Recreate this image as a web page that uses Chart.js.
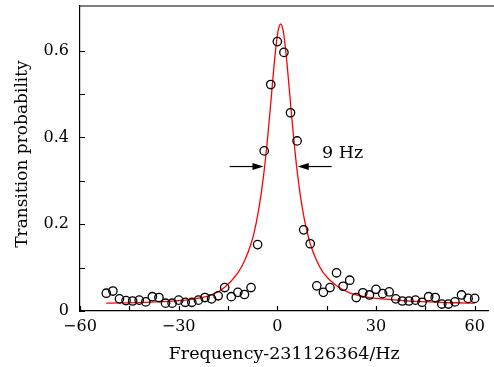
<!DOCTYPE html>
<html>
<head>
<meta charset="utf-8">
<script src="https://cdn.jsdelivr.net/npm/chart.js@4/dist/chart.umd.min.js"></script>
<style>
  html, body { margin: 0; padding: 0; background: #fff; overflow: hidden; }
  #wrap { width: 100vw; height: 367px; position: relative; }
</style>
</head>
<body>
<div id="wrap"><canvas id="chart"></canvas></div>
<script>
// measured points (Hz offset, transition probability)
const freq = [-52, -50, -48, -46, -44, -42, -40, -38, -36, -34, -32, -30, -28, -26, -24, -22, -20, -18, -16, -14, -12, -10, -8,
  -6, -4, -2, 0, 2, 4, 6, 8, 10,
  12, 14, 16, 18, 20, 22, 24, 26, 28, 30, 32, 34, 36, 38, 40, 42, 44, 46, 48, 50, 52, 54, 56, 58, 60];
const prob = [0.041, 0.046, 0.028, 0.024, 0.023, 0.025, 0.021, 0.033, 0.031, 0.018, 0.018, 0.025, 0.020, 0.020, 0.025, 0.031, 0.028, 0.035, 0.054, 0.033, 0.043, 0.038, 0.054,
  0.153, 0.369, 0.522, 0.621, 0.596, 0.457, 0.392, 0.187, 0.155,
  0.058, 0.043, 0.054, 0.088, 0.057, 0.071, 0.031, 0.042, 0.037, 0.050, 0.040, 0.044, 0.028, 0.023, 0.023, 0.025, 0.020, 0.033, 0.031, 0.016, 0.016, 0.021, 0.037, 0.029, 0.029];

// fitted curve
const fitFreq = [-52, -40, -30, -26, -20, -16, -12, -10, -8, -7, -6, -5, -4, -3, -2, -1, 0, 0.5, 1, 1.5, 2, 3, 4, 5, 6, 7, 8, 9, 10, 12, 14, 18, 22, 28, 32, 42, 54, 60];
const fitProb = [0.018, 0.020, 0.024, 0.027, 0.037, 0.055, 0.088, 0.115, 0.155, 0.183, 0.220, 0.266, 0.324, 0.396, 0.479, 0.566, 0.635, 0.655, 0.662, 0.655, 0.635, 0.566, 0.479, 0.396, 0.324, 0.266, 0.220, 0.184, 0.155, 0.115, 0.088, 0.058, 0.042, 0.031, 0.028, 0.022, 0.019, 0.018];

const xTicks = [-60, -30, 0, 30, 60];
const xMinor = [-45, -15, 15, 45];
const yTicks = [0, 0.2, 0.4, 0.6];
const yMinor = [0.1, 0.3, 0.5];

const serif = '"DejaVu Serif", "Liberation Serif", serif';

// inward ticks, top frame line, FWHM arrows and the y title
const decor = {
    id: 'decor',
    afterDatasetsDraw(chart) {
        const { ctx, chartArea: a, scales: { x, y } } = chart;
        ctx.save();
        ctx.strokeStyle = '#000';
        ctx.lineWidth = 1.2;
        ctx.beginPath();
        ctx.moveTo(a.left, a.top);
        ctx.lineTo(chart.width, a.top);
        xTicks.concat(xMinor).forEach(v => {
            const px = Math.round(x.getPixelForValue(v)) + 0.5;
            ctx.moveTo(px, a.bottom);
            ctx.lineTo(px, a.bottom - 5);
        });
        yTicks.concat(yMinor).forEach(v => {
            const py = Math.round(y.getPixelForValue(v)) + 0.5;
            ctx.moveTo(a.left, py);
            ctx.lineTo(a.left + 5, py);
        });
        ctx.stroke();

        // 9 Hz arrows
        const ay = y.getPixelForValue(0.333);
        const arrow = (from, to) => {
            const x0 = x.getPixelForValue(from), x1 = x.getPixelForValue(to);
            const dir = Math.sign(x1 - x0);
            ctx.beginPath();
            ctx.moveTo(x0, ay);
            ctx.lineTo(x1 - dir * 8, ay);
            ctx.stroke();
            ctx.beginPath();
            ctx.moveTo(x1, ay);
            ctx.lineTo(x1 - dir * 11, ay - 3.5);
            ctx.lineTo(x1 - dir * 11, ay + 3.5);
            ctx.closePath();
            ctx.fill();
        };
        ctx.fillStyle = '#000';
        arrow(-14.5, -4.2);
        arrow(16.5, 6.2);

        ctx.font = '17.5px ' + serif;
        ctx.textBaseline = 'middle';
        ctx.textAlign = 'left';
        ctx.fillText('9 Hz', x.getPixelForValue(13.6), y.getPixelForValue(0.363));

        ctx.font = '17px ' + serif;
        ctx.translate(a.left * 23 / 80, 154);
        ctx.rotate(-Math.PI / 2);
        ctx.textAlign = 'center';
        ctx.fillText('Transition probability', 0, 0);
        ctx.restore();
    }
};

new Chart(document.getElementById('chart'), {
    type: 'line',
    data: {
        datasets: [
            {
                label: 'Data',
                data: freq.map((f, i) => ({ x: f, y: prob[i] })),
                showLine: false,
                pointStyle: 'circle',
                pointRadius: 4.2,
                pointBorderWidth: 1.3,
                pointBorderColor: '#000',
                pointBackgroundColor: 'rgba(255,255,255,0)',
                order: 1
            },
            {
                label: 'Fit',
                data: fitFreq.map((f, i) => ({ x: f, y: fitProb[i] })),
                borderColor: '#ff0000',
                borderWidth: 1.3,
                pointRadius: 0,
                fill: false,
                cubicInterpolationMode: 'monotone',
                order: 2
            }
        ]
    },
    options: {
        responsive: true,
        maintainAspectRatio: false,
        animation: false,
        layout: { padding: { top: 6, right: 0, left: 0, bottom: 0 } },
        plugins: { legend: { display: false }, tooltip: { enabled: false } },
        scales: {
            x: {
                type: 'linear',
                min: -60,
                max: 64.2,
                afterBuildTicks: s => { s.ticks = xTicks.map(v => ({ value: v })); },
                afterFit: s => { s.height = 56; s.paddingLeft = 0; s.paddingRight = 0; },
                grid: { display: false, drawTicks: false },
                border: { display: true, color: '#000', width: 1.2 },
                ticks: {
                    color: '#000',
                    padding: 6,
                    maxRotation: 0,
                    font: { family: serif, size: 16 },
                    callback: v => (v < 0 ? '\u2212' + Math.abs(v) : String(v))
                },
                title: {
                    display: true,
                    text: 'Frequency-231126364/Hz',
                    color: '#000',
                    font: { family: serif, size: 17.5 },
                    padding: { top: 0, bottom: 2 }
                }
            },
            y: {
                min: 0,
                max: 0.703,
                afterBuildTicks: s => { s.ticks = yTicks.map(v => ({ value: v })); },
                afterFit: s => { s.width = Math.round(80 * s.chart.width / 494); s.paddingTop = 0; s.paddingBottom = 0; },
                grid: { display: false, drawTicks: false },
                border: { display: true, color: '#000', width: 1.2 },
                ticks: {
                    color: '#000',
                    padding: 11,
                    font: { family: serif, size: 16 },
                    callback: v => (v === 0 ? '0' : v.toFixed(1))
                }
            }
        }
    },
    plugins: [decor]
});
</script>
</body>
</html>
